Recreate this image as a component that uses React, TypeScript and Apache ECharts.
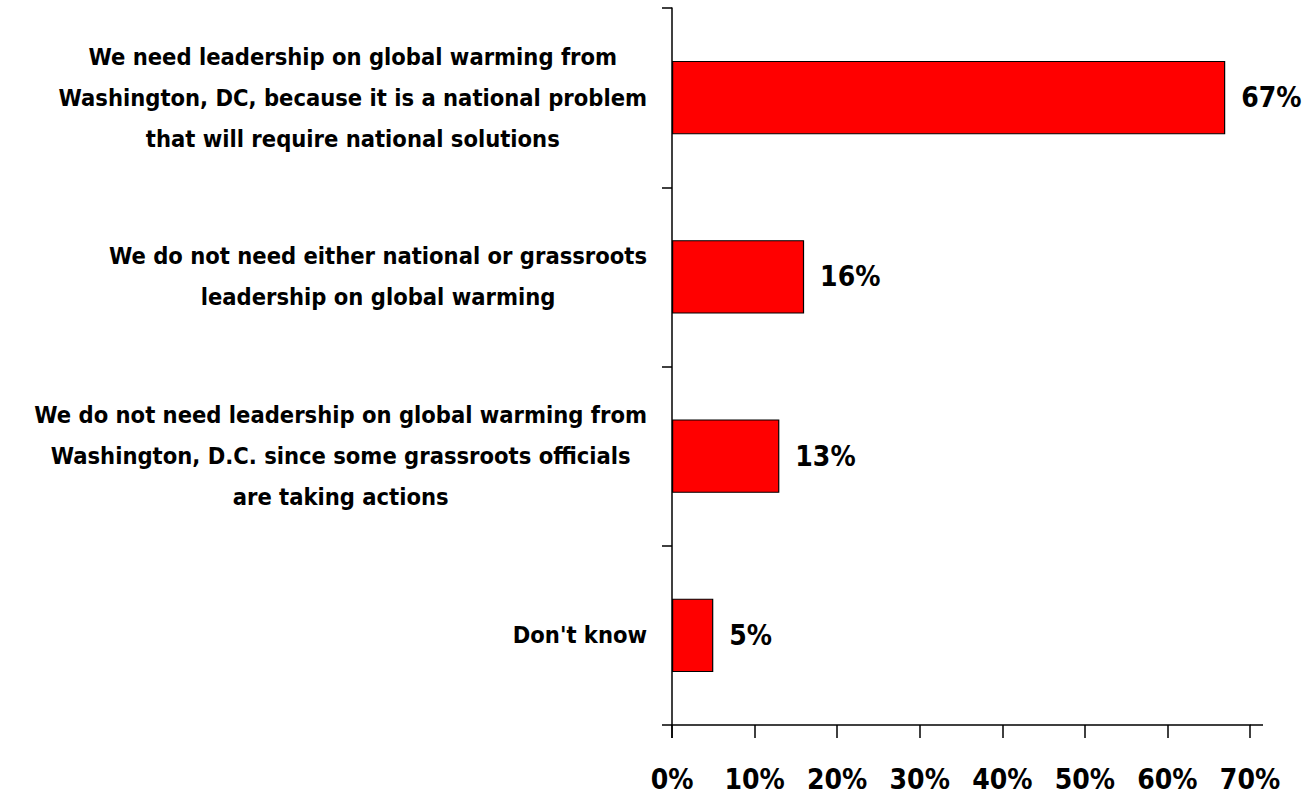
import React, { useEffect, useRef } from "react";
import * as echarts from "echarts";

const categories: string[][] = [
  ["We need leadership on global warming from", "Washington, DC, because it is a national problem", "that will require national solutions"],
  ["We do not need either national or grassroots", "leadership on global warming"],
  ["We do not need leadership on global warming from", "Washington, D.C. since some grassroots officials", "are taking actions"],
  ["Don't know"],
];
const values: number[] = [67, 16, 13, 5];
const xTicks = { min: 0, max: 70, interval: 10 };

const FONT = "'DejaVu Sans Condensed', 'Liberation Sans Narrow', sans-serif";

export default function App() {
  const ref = useRef<HTMLDivElement>(null);
  useEffect(() => {
    document.body.style.margin = "0";
    if (!ref.current) return;
    const chart = echarts.init(ref.current, undefined, { renderer: "svg" });
    chart.setOption({
      animation: false,
      backgroundColor: "#ffffff",
      grid: { left: 672, right: 58, top: 8, bottom: 72, containLabel: false },
      xAxis: {
        type: "value",
        min: xTicks.min,
        max: xTicks.max,
        interval: xTicks.interval,
        splitLine: { show: false },
        axisLine: { show: true, lineStyle: { color: "#000", width: 1.5 } },
        axisTick: { show: true, length: 13, lineStyle: { color: "#000", width: 1.5 } },
        axisLabel: {
          margin: 40,
          color: "#000",
          fontFamily: FONT,
          fontWeight: "bold",
          fontSize: 28,
          formatter: (v: number) => `${v}%`,
        },
      },
      yAxis: {
        type: "category",
        inverse: true,
        data: categories.map((c) => c.join("\n")),
        axisLine: { show: true, lineStyle: { color: "#000", width: 1.5 } },
        axisTick: { show: true, length: 10, lineStyle: { color: "#000", width: 1.5 } },
        axisLabel: {
          margin: 25,
          color: "#000",
          align: "right",
          fontFamily: FONT,
          fontWeight: "bold",
          fontSize: 23.5,
          lineHeight: 41,
          formatter: (v: string) =>
            v.split("\n").map((l) => `{c|${l}}`).join("\n"),
          rich: {
            c: {
              align: "center",
              color: "#000",
              fontFamily: FONT,
              fontWeight: "bold",
              fontSize: 23.5,
              lineHeight: 41,
            },
          },
        },
      },
      series: [
        {
          type: "bar",
          data: values,
          barWidth: "41%",
          itemStyle: { color: "#ff0000", borderColor: "#000", borderWidth: 1.2 },
          label: {
            show: true,
            position: "right",
            distance: 16,
            color: "#000",
            fontFamily: FONT,
            fontWeight: "bold",
            fontSize: 28,
            formatter: (p: any) => `${p.value}%`,
          },
        },
      ],
      graphic: [
        {
          type: "line",
          shape: { x1: 1250, y1: 725, x2: 1263, y2: 725 },
          style: { stroke: "#000", lineWidth: 1.5 },
        },
        {
          type: "line",
          shape: { x1: 672, y1: 725, x2: 672, y2: 738 },
          style: { stroke: "#000", lineWidth: 1.5 },
        },
      ],
    });
    return () => chart.dispose();
  }, []);
  return <div ref={ref} style={{ width: 1308, height: 797 }} />;
}
